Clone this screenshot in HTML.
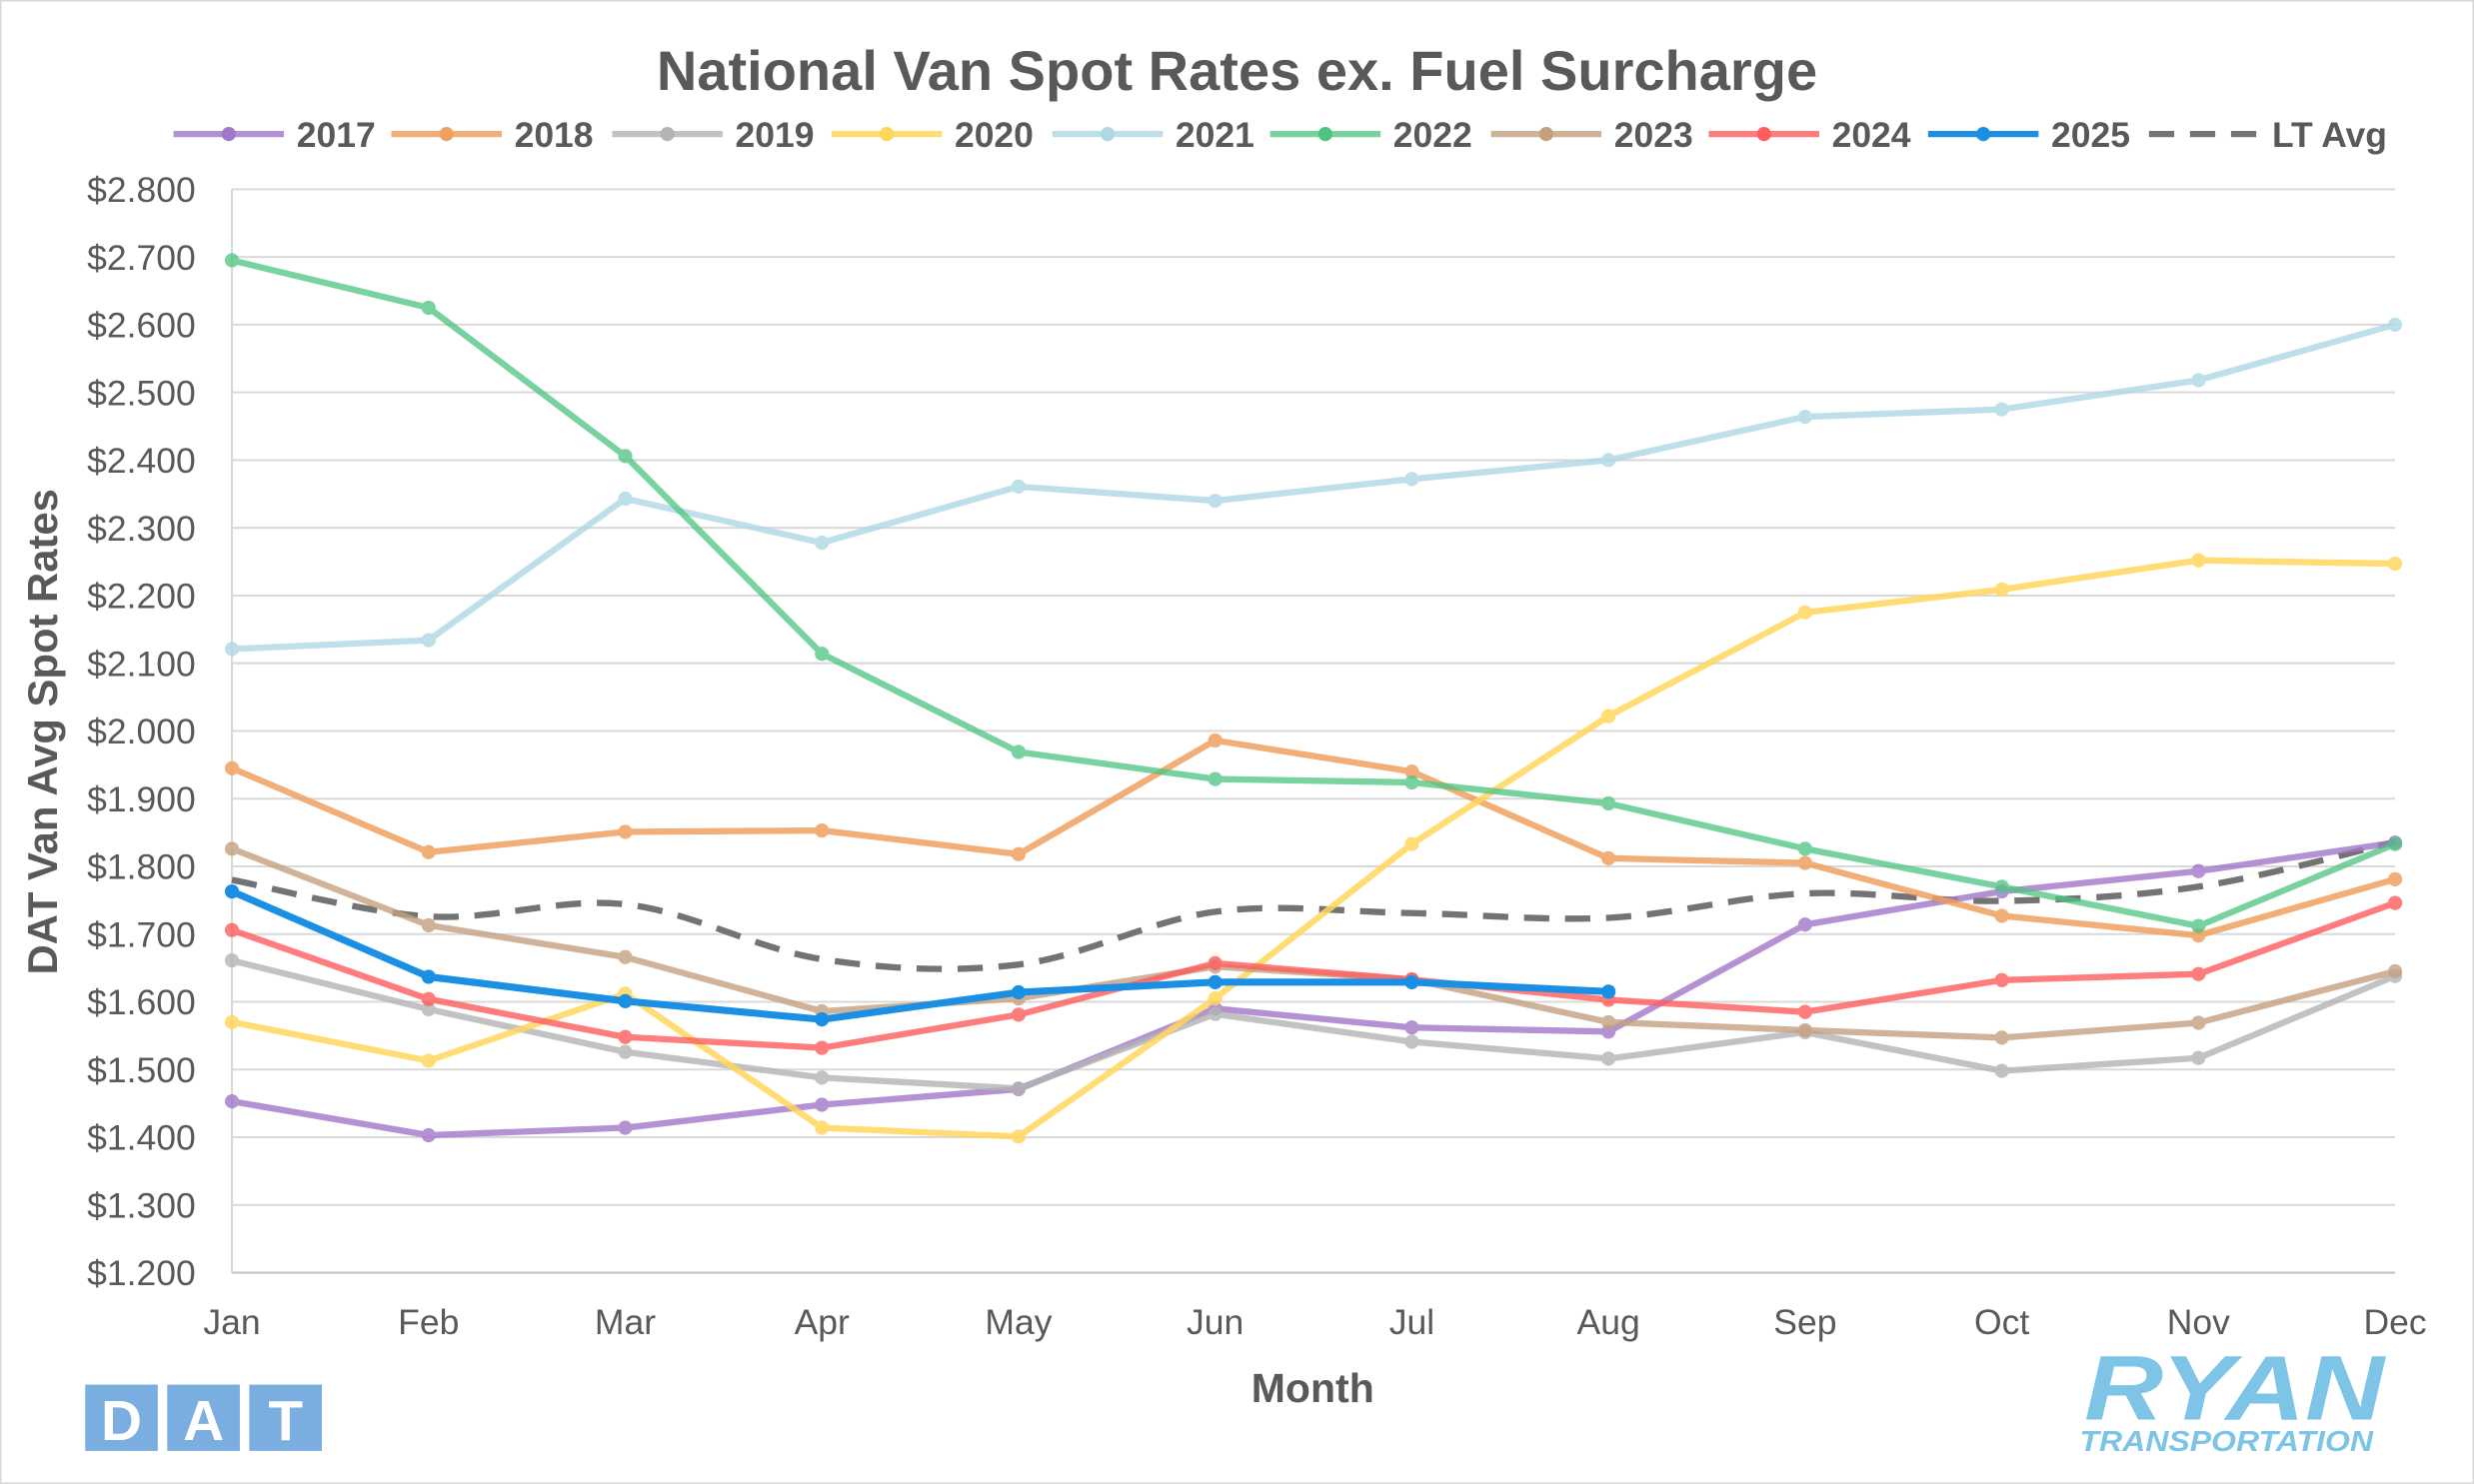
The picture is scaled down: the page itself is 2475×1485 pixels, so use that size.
<!DOCTYPE html>
<html><head><meta charset="utf-8"><style>
html,body{margin:0;padding:0;background:#fff;}
svg{display:block;font-family:"Liberation Sans",Arial,sans-serif;}
</style></head><body>
<svg id="chart" width="2475" height="1485" viewBox="0 0 1568 941" preserveAspectRatio="none" xmlns="http://www.w3.org/2000/svg">
<rect x="0.5" y="0.5" width="1567" height="940" fill="#fff" stroke="#d9d9d9"/>
<text x="784" y="57" text-anchor="middle" font-size="35.5" font-weight="bold" fill="#595959">National Van Spot Rates ex. Fuel Surcharge</text>
<g id="grid"></g>
<g id="yticks"></g>
<g id="xticks"></g>
<g id="series"></g>
<g id="legend"></g>
<text transform="translate(36,464) rotate(-90)" text-anchor="middle" font-size="26.5" font-weight="bold" fill="#595959">DAT Van Avg Spot Rates</text>
<text x="832" y="889" text-anchor="middle" font-size="26" font-weight="bold" fill="#595959">Month</text>
<g>
<rect x="54" y="878" width="46" height="42" fill="#7aade0"/><rect x="106" y="878" width="46" height="42" fill="#7aade0"/><rect x="158" y="878" width="46" height="42" fill="#7aade0"/>
<text x="77" y="913" text-anchor="middle" font-size="36" font-weight="bold" fill="#fff">D</text>
<text x="129" y="913" text-anchor="middle" font-size="36" font-weight="bold" fill="#fff">A</text>
<text x="181" y="913" text-anchor="middle" font-size="36" font-weight="bold" fill="#fff">T</text>
</g>
<g>
<text x="1416" y="900" text-anchor="middle" font-size="58" font-weight="bold" font-style="italic" fill="#7ec4e6" textLength="190" lengthAdjust="spacingAndGlyphs">RYAN</text>
<text x="1411" y="920" text-anchor="middle" font-size="18" font-weight="bold" font-style="italic" fill="#7ec4e6" textLength="186" lengthAdjust="spacingAndGlyphs">TRANSPORTATION</text>
</g>
</svg>
<script>
const months=["Jan","Feb","Mar","Apr","May","Jun","Jul","Aug","Sep","Oct","Nov","Dec"];
const yTicks=[1.2,1.3,1.4,1.5,1.6,1.7,1.8,1.9,2.0,2.1,2.2,2.3,2.4,2.5,2.6,2.7,2.8];
const seriesNames=["2017","2018","2019","2020","2021","2022","2023","2024","2025","LT Avg"];
const v2017=[1.453,1.403,1.414,1.448,1.471,1.590,1.562,1.556,1.714,1.763,1.793,1.835];
const v2018=[1.945,1.821,1.851,1.853,1.818,1.986,1.940,1.812,1.805,1.727,1.698,1.781];
const v2019=[1.661,1.589,1.526,1.488,1.472,1.582,1.541,1.516,1.555,1.498,1.517,1.638];
const v2020=[1.570,1.513,1.612,1.414,1.401,1.605,1.833,2.022,2.175,2.209,2.252,2.247];
const v2021=[2.121,2.134,2.343,2.278,2.361,2.340,2.372,2.400,2.464,2.475,2.518,2.600];
const v2022=[2.695,2.625,2.406,2.114,1.969,1.929,1.924,1.893,1.826,1.770,1.712,1.833];
const v2023=[1.826,1.713,1.666,1.586,1.605,1.652,1.633,1.570,1.558,1.547,1.569,1.645];
const v2024=[1.706,1.604,1.548,1.532,1.581,1.657,1.633,1.603,1.585,1.632,1.641,1.746];
const v2025=[1.763,1.637,1.601,1.574,1.614,1.629,1.629,1.615];
const vLT=[1.780,1.726,1.744,1.663,1.655,1.733,1.731,1.724,1.760,1.749,1.770,1.836];

const NS="http://www.w3.org/2000/svg";
const X0=147,X1=1518,Y0=807,Y1=120,YMIN=1.2,YMAX=2.8;
const xs=i=>X0+(X1-X0)*i/11;
const ys=v=>Y0-(v-YMIN)/(YMAX-YMIN)*(Y0-Y1);
function mk(tag,attrs,parent){const e=document.createElementNS(NS,tag);for(const k in attrs)e.setAttribute(k,attrs[k]);parent.appendChild(e);return e;}
const grid=document.getElementById('grid'),yt=document.getElementById('yticks'),xt=document.getElementById('xticks'),sg=document.getElementById('series'),lg=document.getElementById('legend');
yTicks.forEach(t=>{
  const l=mk('line',{x1:X0,x2:X1,y1:ys(t),y2:ys(t),stroke:t===YMIN?'#bfbfbf':'#d9d9d9','stroke-width':1.3},grid);
  
  
  const tx=mk('text',{x:124,y:ys(t)+8,'text-anchor':'end','font-size':22.5,fill:'#595959'},yt);
  tx.textContent='$'+t.toFixed(3);
  
  
});
const ax=mk('line',{x1:X0,x2:X0,y1:Y1,y2:Y0,stroke:'#d9d9d9','stroke-width':1.3},grid);


months.forEach((m,i)=>{
  const tx=mk('text',{x:xs(i),y:846,'text-anchor':'middle','font-size':22.5,fill:'#595959'},xt);
  tx.textContent=m;
  
  
});
const data=[v2017,v2018,v2019,v2020,v2021,v2022,v2023,v2024,v2025,vLT];
const colors=["#a276c9","#f0a060","#b3b3b3","#ffd65c","#add8e6","#4cc47f","#c4a07f","#ff5c5c","#1a8fe3","#737373"];
const opac=[0.8,0.85,0.8,0.85,0.8,0.75,0.8,0.8,1,1];
function smooth(pts){let d='M'+pts[0][0]+','+pts[0][1];for(let i=0;i<pts.length-1;i++){const p0=pts[i-1]||pts[i],p1=pts[i],p2=pts[i+1],p3=pts[i+2]||p2;const c1=[p1[0]+(p2[0]-p0[0])/6,p1[1]+(p2[1]-p0[1])/6],c2=[p2[0]-(p3[0]-p1[0])/6,p2[1]-(p3[1]-p1[1])/6];d+=' C'+c1+' '+c2+' '+p2;}return d;}
const order=[9,0,1,2,3,4,5,6,7,8];
order.forEach(s=>{
  const vals=data[s];const pts=vals.map((v,i)=>[xs(i),ys(v)]);
  const g=mk('g',{opacity:opac[s]},sg);
  
  
  if(s===9){
    mk('path',{d:smooth(pts),fill:'none',stroke:colors[s],'stroke-width':4,'stroke-dasharray':'16 10'},g);
  } else {
    mk('polyline',{points:pts.map(p=>p.join(',')).join(' '),fill:'none',stroke:colors[s],'stroke-width':s===8?4.5:4,'stroke-linejoin':'round'},g);
    pts.forEach(p=>{const c=mk('circle',{cx:p[0],cy:p[1],r:4.5,fill:colors[s]},g);
      
      });
  }
});
const legX=[110,248,388,527,667,805,945,1083,1222,1362];
seriesNames.forEach((n,s)=>{
  const g=mk('g',{},lg);
  
  
  const x=legX[s];
  if(s===9) mk('line',{x1:x,x2:x+70,y1:85,y2:85,stroke:colors[s],'stroke-width':4,'stroke-dasharray':'16 10'},g);
  else {mk('line',{x1:x,x2:x+70,y1:85,y2:85,stroke:colors[s],'stroke-width':4,opacity:opac[s]},g);mk('circle',{cx:x+35,cy:85,r:4.5,fill:colors[s]},g);}
  const t=mk('text',{x:x+78,y:93,'font-size':22.5,'font-weight':'bold',fill:'#595959'},g);t.textContent=n;
});
</script>
</body></html>
